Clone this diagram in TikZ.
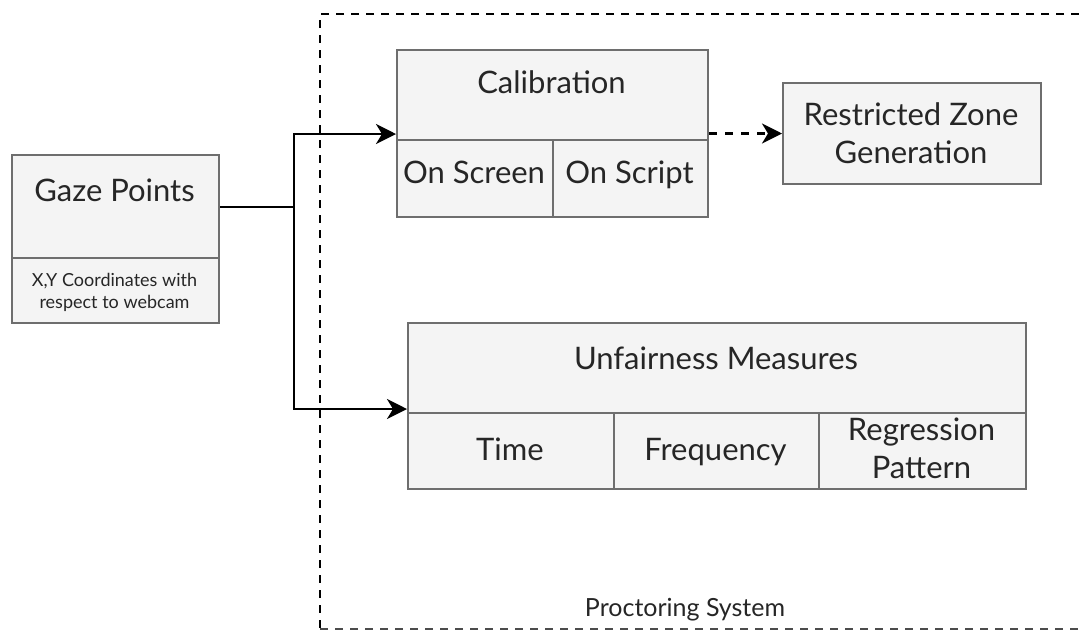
\documentclass[tikz,border=0pt]{standalone}
\usepackage{fontspec}
\setmainfont{Lato}
\usetikzlibrary{arrows.meta}
\definecolor{boxfill}{HTML}{F4F4F4}
\definecolor{boxline}{HTML}{6E6E6E}
\definecolor{txt}{HTML}{262626}
\tikzset{
  cell/.style={draw=boxline, fill=boxfill, line width=2pt, inner sep=0pt, anchor=north west},
  lbl/.style={text=txt, font=\fontsize{31}{37.5}\selectfont, align=center, inner sep=0pt, anchor=base},
  small/.style={text=txt, font=\fontsize{18}{21.5}\selectfont, align=center, inner sep=0pt, anchor=base},
  conn/.style={line width=2.4pt, -{Stealth[length=20pt,width=20pt,inset=6pt]}},
  frame/.style={line width=2pt, dash pattern=on 8pt off 7pt}
}
\begin{document}
\begin{tikzpicture}[x=1pt,y=-1pt]
\useasboundingbox (0,0) rectangle (1079,630);

% Proctoring system container (open to the right)
\draw[frame] (1079,14) -- (320,14) -- (320,630);
\draw[line width=1.2pt, dash pattern=on 8pt off 7pt, black!70] (320,629) -- (1079,629);
\node[text=txt, font=\fontsize{25}{30}\selectfont, inner sep=0pt, anchor=base] (ps) at (685,616) {Proctoring System};

% Gaze points
\node[cell, minimum width=207pt, minimum height=103pt] (gazeTop) at (11,154) {};
\node[cell, minimum width=207pt, minimum height=65pt] (gazeSub) at (11,257) {};
\node[lbl] (gazeT) at (114.5,201) {Gaze Points};
% multi-line labels are placed by the baseline of their last line
\node[small] (gazeS) at (114.5,308) {X,Y Coordinates with\\respect to webcam};

% Calibration
\node[cell, minimum width=311pt, minimum height=90pt] (calTop) at (396,49) {};
\node[cell, minimum width=156pt, minimum height=77pt] (calA) at (396,139) {};
\node[cell, minimum width=155pt, minimum height=77pt] (calB) at (552,139) {};
\node[lbl] (calT) at (551.5,93) {Calibration};
\node[lbl] (calAT) at (474,183) {On Screen};
\node[lbl] (calBT) at (629.5,183) {On Script};

% Restricted zone generation
\node[cell, minimum width=258pt, minimum height=101pt] (rz) at (782,82) {};
\node[lbl] (rzT) at (911,163) {Restricted Zone\\Generation};

% Unfairness measures
\node[cell, minimum width=618pt, minimum height=90pt] (unTop) at (407,322) {};
\node[cell, minimum width=206pt, minimum height=76pt] (unA) at (407,412) {};
\node[cell, minimum width=205pt, minimum height=76pt] (unB) at (613,412) {};
\node[cell, minimum width=207pt, minimum height=76pt] (unC) at (818,412) {};
\node[lbl] (unT) at (716,369) {Unfairness Measures};
\node[lbl] (unAT) at (510,460) {Time};
\node[lbl] (unBT) at (715.5,460) {Frequency};
\node[lbl] (unCT) at (921.5,478) {Regression\\Pattern};

% Connectors
\coordinate (split) at (294,207);
\draw[line width=2.4pt] (gazeTop.east |- split) -- (split);
\draw[conn] (split) |- ([yshift=7pt]calTop.south west);
\draw[conn] (split) |- ([yshift=5pt]unTop.south west);
\draw[line width=2.4pt, dash pattern=on 8pt off 8pt, -{Stealth[length=20pt,width=20pt,inset=6pt]}]
  (calTop.east |- rz.west) -- (rz.west);
\end{tikzpicture}
\end{document}
